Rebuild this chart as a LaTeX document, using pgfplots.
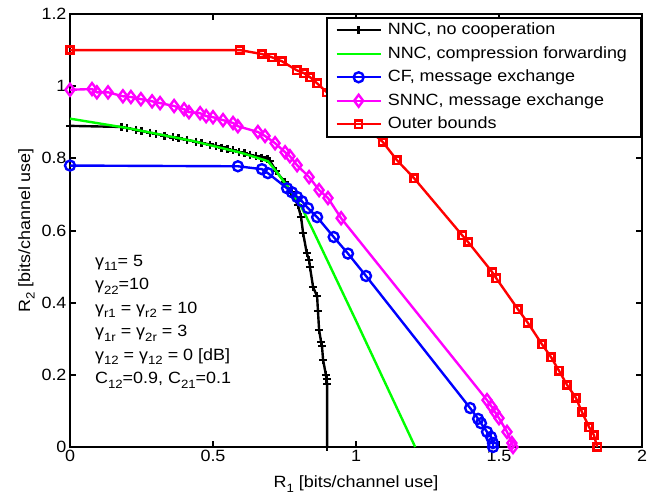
\documentclass[border=0pt]{standalone}
\usepackage{fontspec}
\setmainfont{Liberation Sans}[FakeStretch=1.1]
\usepackage{pgfplots}
\pgfplotsset{compat=1.18}
\definecolor{mgreen}{rgb}{0,1,0}
\definecolor{mblue}{rgb}{0,0,1}
\definecolor{mmagenta}{rgb}{1,0,1}
\definecolor{mred}{rgb}{1,0,0}
\newcommand\sub[1]{\raisebox{-4.5pt}{\fontsize{12}{12}\selectfont #1}}
\newcommand\fs{\fontsize{16.3}{19}\selectfont}
\pgfplotsset{
  long legend/.style={
    legend image code/.code={%
      \draw[mark repeat=2,mark phase=2,##1]
        plot coordinates {(0pt,0pt) (22pt,0pt) (44pt,0pt)};}},
}

\begin{document}
\begin{tikzpicture}
\useasboundingbox (-70pt,-49pt) rectangle (577pt,447pt);
\begin{axis}[
  scale only axis,
  width=572pt, height=433pt,
  xmin=0, xmax=2, ymin=0, ymax=1.2,
  xtick={0,0.5,1,1.5,2},
  ytick={0,0.2,0.4,0.6,0.8,1,1.2},
  tick align=inside,
  xtick pos=both, ytick pos=both,
  xticklabel pos=bottom, yticklabel pos=left,
  major tick length=6pt,
  axis line style={line width=2pt},
  every tick/.style={black, line width=2pt},
  ticklabel style={font=\fs},
  /pgf/number format/assume math mode=true,
  label style={font=\fs},
  xlabel={R\sub{1} [bits/channel use]},
  ylabel={R\sub{2} [bits/channel use]},
  xlabel style={yshift=-7pt},
  clip mode=individual,
  legend cell align=left,
  legend style={at={(1,0.993)}, anchor=north east, draw=black, line width=2pt,
    fill=white, font=\fs, row sep=5pt, inner xsep=8pt, inner ysep=3pt,
    nodes={inner ysep=1pt, inner xsep=6pt, text height=12.5pt, text depth=4pt}},
]
% NNC, no cooperation
\addplot[black, line width=2.4pt, mark=+, mark size=4pt, long legend] coordinates {
(0,0.89) (0.18,0.887) (0.20,0.884) (0.23,0.879) (0.25,0.876) (0.28,0.871)
(0.30,0.868) (0.33,0.863) (0.36,0.858) (0.38,0.855) (0.41,0.851) (0.44,0.846)
(0.46,0.843) (0.49,0.838) (0.51,0.834) (0.53,0.830) (0.55,0.826) (0.57,0.822)
(0.59,0.818) (0.61,0.814) (0.63,0.810) (0.65,0.806) (0.67,0.802) (0.69,0.798)
(0.70,0.792) (0.72,0.765) (0.75,0.735) (0.775,0.705) (0.797,0.670) (0.808,0.637)
(0.815,0.593) (0.828,0.537) (0.836,0.518) (0.839,0.499) (0.850,0.443) (0.864,0.418)
(0.867,0.377) (0.871,0.324) (0.878,0.291) (0.881,0.280) (0.885,0.241) (0.895,0.199)
(0.897,0.188) (0.899,0.175) (0.899,0)
};
\addlegendentry{NNC, no cooperation}
% NNC, compression forwarding
\addplot[mgreen, line width=2.4pt, long legend] coordinates {
(0,0.91) (0.2,0.884) (0.43,0.848) (0.6,0.815) (0.692,0.792) (0.72,0.765)
(0.75,0.733) (0.78,0.70) (0.81,0.664) (0.85,0.60) (1.0,0.35) (1.207,0)
};
\addlegendentry{NNC, compression forwarding}
% CF, message exchange
\addplot[mblue, line width=2.4pt, mark=o, mark size=5pt, long legend] coordinates {
(0,0.78) (0.587,0.778) (0.671,0.770) (0.692,0.759) (0.759,0.717) (0.776,0.706)
(0.794,0.693) (0.811,0.681) (0.832,0.662) (0.864,0.637) (0.922,0.582) (0.972,0.536)
(1.035,0.474) (1.399,0.108) (1.427,0.078) (1.437,0.066) (1.458,0.042) (1.472,0.028)
(1.479,0.011) (1.479,0)
};
\addlegendentry{CF, message exchange}
% SNNC, message exchange
\addplot[mmagenta, line width=2.4pt, mark=diamond, mark size=6pt, long legend] coordinates {
(0,0.99) (0.077,0.992) (0.094,0.983) (0.133,0.983) (0.185,0.972) (0.213,0.970)
(0.248,0.964) (0.287,0.958) (0.315,0.953) (0.364,0.945) (0.399,0.936) (0.416,0.928)
(0.455,0.925) (0.476,0.917) (0.500,0.914) (0.535,0.906) (0.570,0.898) (0.587,0.889)
(0.657,0.873) (0.682,0.862) (0.717,0.842) (0.752,0.817) (0.769,0.806) (0.794,0.781)
(0.836,0.748) (0.871,0.712) (0.902,0.690) (0.948,0.634) (1.458,0.130) (1.475,0.111)
(1.486,0.097) (1.500,0.080) (1.528,0.042) (1.545,0.011) (1.549,0)
};
\addlegendentry{SNNC, message exchange}
% Outer bounds
\addplot[mred, line width=2.4pt, mark=square, mark size=3.6pt, long legend] coordinates {
(0,1.1) (0.594,1.1) (0.671,1.089) (0.706,1.080) (0.741,1.069) (0.793,1.044)
(0.818,1.036) (0.839,1.025) (0.864,1.008) (0.898,0.983) (1.094,0.845) (1.143,0.795)
(1.203,0.745) (1.371,0.587) (1.392,0.568) (1.476,0.485) (1.490,0.468) (1.566,0.382)
(1.601,0.344) (1.650,0.285) (1.682,0.249) (1.710,0.211) (1.738,0.172) (1.769,0.136)
(1.790,0.097) (1.815,0.055) (1.832,0.033) (1.843,0)
};
\addlegendentry{Outer bounds}
\node[anchor=north west, align=left, inner sep=0pt,
  font=\fontsize{16.3}{23.5}\selectfont] at (axis cs:0.087,0.532)
  {γ\sub{11}= 5\\
   γ\sub{22}=10\\
   γ\sub{r1} = γ\sub{r2} = 10\\
   γ\sub{1r} = γ\sub{2r} = 3\\
   γ\sub{12} = γ\sub{12} = 0 [dB]\\
   C\sub{12}=0.9, C\sub{21}=0.1};
\end{axis}
\end{tikzpicture}
\end{document}
